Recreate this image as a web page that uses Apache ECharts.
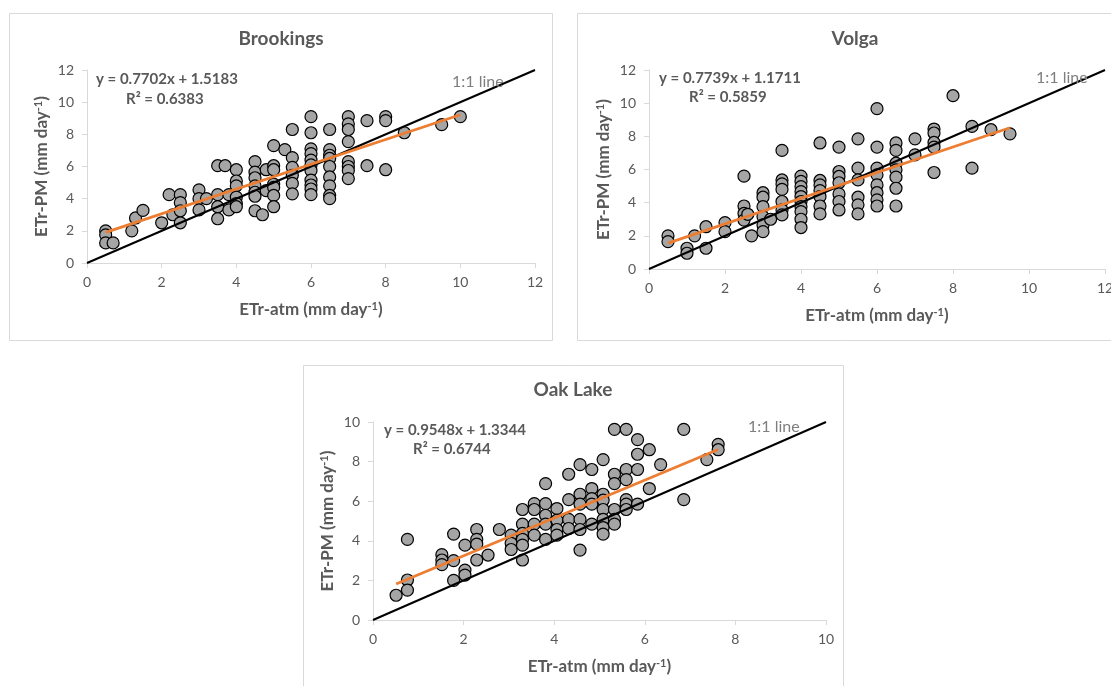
<!DOCTYPE html>
<html>
<head>
<meta charset="utf-8">
<script src="https://cdn.jsdelivr.net/npm/echarts@6/dist/echarts.min.js"></script>
<style>
html,body{margin:0;padding:0;background:#fff;overflow:hidden;}
#c{width:1111px;height:686px;}
</style>
</head>
<body>
<div id="c"></div>
<script>
// ---- data ----
const titles = ['Brookings', 'Volga', 'Oak Lake'];
const equations = ['y = 0.7702x + 1.5183', 'y = 0.7739x + 1.1711', 'y = 0.9548x + 1.3344'];
const rSquared = ['R² = 0.6383', 'R² = 0.5859', 'R² = 0.6744'];
const xTicksTop = [0, 2, 4, 6, 8, 10, 12];
const xTicksOak = [0, 2, 4, 6, 8, 10];

const brookingsPts = [
  [0.5,2.0],[0.5,1.75],[0.5,1.25],[0.7,1.25],[1.2,2.0],[1.3,2.8],[1.5,3.27],[2.0,2.5],[2.2,4.25],[2.3,3.0],
  [2.5,4.25],[2.5,3.75],[2.5,3.25],[2.5,2.5],[3.0,4.55],[3.0,4.0],[3.0,3.3],[3.2,4.0],[3.5,6.05],[3.7,6.05],
  [3.5,4.25],[3.5,3.5],[3.5,2.75],[3.8,3.3],[3.8,4.25],[4.0,5.8],[4.0,5.1],[4.0,4.8],[4.0,4.1],[4.0,3.7],
  [4.0,3.5],[4.5,6.3],[4.5,5.65],[4.5,5.3],[4.5,4.8],[4.5,4.4],[4.5,4.15],[4.5,3.25],[4.7,3.0],[4.8,5.8],
  [4.8,4.5],[5.0,7.3],[5.0,6.05],[5.0,5.8],[5.0,4.9],[5.0,4.7],[5.0,4.2],[5.0,3.5],[5.3,7.05],[5.5,8.3],
  [5.5,6.55],[5.5,5.95],[5.5,5.45],[5.5,4.95],[5.5,4.3],[6.0,9.1],[6.0,8.1],[6.0,7.1],[6.0,6.8],[6.0,6.4],
  [6.0,6.1],[6.0,5.75],[6.0,5.15],[6.0,4.85],[6.0,4.6],[6.0,4.25],[6.5,8.3],[6.5,7.05],[6.5,6.7],[6.5,6.5],
  [6.5,6.0],[6.5,5.35],[6.5,4.8],[6.5,4.2],[6.5,4.0],[7.0,9.1],[7.0,8.65],[7.0,8.3],[7.0,7.55],[7.0,6.3],
  [7.0,6.0],[7.0,5.75],[7.0,5.25],[7.5,8.85],[7.5,6.05],[8.0,9.1],[8.0,8.85],[8.0,5.8],[8.5,8.1],[9.5,8.6],
  [10.0,9.1]
];
const volgaPts = [
  [0.5,2.0],[0.5,1.65],[1.0,1.25],[1.0,0.95],[1.2,2.0],[1.5,2.55],[1.5,1.25],[2.0,2.8],[2.0,2.25],[2.5,5.6],
  [2.5,3.8],[2.5,3.35],[2.5,2.95],[2.6,3.3],[2.7,2.0],[3.0,4.6],[3.0,4.33],[3.0,3.76],[3.0,3.16],[3.0,2.66],
  [3.0,2.25],[3.2,3.0],[3.5,7.15],[3.5,5.37],[3.5,5.13],[3.5,4.8],[3.5,4.07],[3.5,3.56],[3.5,3.26],[4.0,5.6],
  [4.0,5.28],[4.0,4.97],[4.0,4.67],[4.0,4.37],[4.0,4.07],[4.0,3.76],[4.0,3.46],[4.0,3.0],[4.0,2.5],[4.5,7.6],
  [4.5,5.34],[4.5,5.07],[4.5,4.73],[4.5,4.37],[4.5,3.8],[4.5,3.32],[5.0,7.35],[5.0,5.88],[5.0,5.58],[5.0,5.2],
  [5.0,4.53],[5.0,4.07],[5.0,3.56],[5.5,7.85],[5.5,6.08],[5.5,5.37],[5.5,4.33],[5.5,3.87],[5.5,3.32],[6.0,9.67],
  [6.0,7.35],[6.0,6.08],[6.0,5.68],[6.0,5.07],[6.0,4.6],[6.0,4.17],[6.0,3.8],[6.5,7.6],[6.5,7.15],[6.5,6.38],
  [6.5,5.98],[6.5,5.54],[6.5,4.87],[6.5,3.8],[7.0,7.85],[7.0,6.88],[7.5,8.44],[7.5,8.2],[7.5,7.63],[7.5,7.35],
  [7.5,5.82],[8.0,10.45],[8.5,8.6],[8.5,6.08],[9.0,8.4],[9.5,8.15]
];
const oakLakePts = [
  [0.51,1.25],[0.76,4.07],[0.76,2.02],[0.76,1.51],[1.52,3.3],[1.52,3.03],[1.52,2.8],[1.78,4.34],[1.78,3.0],[1.78,2.0],
  [2.03,3.78],[2.03,2.52],[2.03,2.27],[2.29,4.57],[2.29,4.07],[2.29,3.83],[2.29,3.03],[2.54,3.28],[2.79,4.57],[3.05,4.29],
  [3.05,3.87],[3.05,3.56],[3.30,5.58],[3.30,4.84],[3.30,4.37],[3.30,4.07],[3.30,3.78],[3.30,3.03],[3.56,5.88],[3.56,5.58],
  [3.56,4.84],[3.56,4.29],[3.81,6.89],[3.81,5.88],[3.81,5.29],[3.81,4.84],[3.81,4.07],[4.06,5.63],[4.06,5.04],[4.06,4.57],
  [4.06,4.29],[4.32,7.36],[4.32,6.08],[4.32,5.08],[4.32,4.62],[4.57,7.85],[4.57,6.35],[4.57,5.85],[4.57,5.08],[4.57,4.57],
  [4.57,3.53],[4.83,7.6],[4.83,6.64],[4.83,6.13],[4.83,5.85],[4.83,4.84],[5.08,8.1],[5.08,6.35],[5.08,6.05],[5.08,5.58],
  [5.08,5.08],[5.08,4.67],[5.08,4.34],[5.33,9.63],[5.33,7.36],[5.33,6.89],[5.33,5.58],[5.33,5.08],[5.33,4.84],[5.59,9.63],
  [5.59,7.6],[5.59,7.09],[5.59,6.08],[5.59,5.85],[5.59,5.58],[5.84,9.11],[5.84,8.37],[5.84,7.6],[5.84,5.85],[6.10,8.6],
  [6.10,6.64],[6.35,7.85],[6.86,9.63],[6.86,6.08],[7.37,8.1],[7.62,8.87],[7.62,8.6]
];
const brookingsTrend = [[0.5,1.9],[10,9.22]];
const volgaTrend = [[0.5,1.56],[9.5,8.52]];
const oakLakeTrend = [[0.51,1.82],[7.62,8.61]];
const oneToOneTop = [[0,0],[12,12]];
const oneToOneOak = [[0,0],[10,10]];

// ---- styling / layout ----
const FONT = 'Lato, "Open Sans", sans-serif';
const GRAY = '#595959';
const grids = [
  {left: 87, top: 70, width: 448, height: 193, outerBoundsMode: 'none'},
  {left: 649, top: 70, width: 456, height: 199, outerBoundsMode: 'none'},
  {left: 373, top: 422, width: 453, height: 198, outerBoundsMode: 'none'}
];
function axisName(t) {
  return '{a|' + t + ' (mm day}{s|-1}{a|)}';
}
const nameRich = {
  a: {fontFamily: FONT, fontSize: 17, fontWeight: 'bold', color: GRAY},
  s: {fontFamily: FONT, fontSize: 11, fontWeight: 'bold', color: GRAY, verticalAlign: 'top', padding: [0, 0, 7, 0]}
};
function xAxis(i, max, ticks) {
  return {
    type: 'value', gridIndex: i, min: 0, max: max, interval: 2,
    name: axisName('ETr-atm'), nameLocation: 'middle', nameGap: 38,
    nameTextStyle: {fontSize: 17, rich: nameRich},
    axisLine: {show: true, lineStyle: {color: '#d9d9d9', width: 1}},
    axisTick: {show: true, length: 5, lineStyle: {color: '#d9d9d9'}},
    splitLine: {show: false},
    axisLabel: {color: GRAY, fontFamily: FONT, fontSize: 14, margin: 12,
      formatter: v => ticks.indexOf(v) >= 0 ? String(v) : ''}
  };
}
function yAxis(i, max) {
  return {
    type: 'value', gridIndex: i, min: 0, max: max, interval: 2,
    name: axisName('ETr-PM'), nameLocation: 'middle', nameGap: 36, nameRotate: 90,
    nameTextStyle: {fontSize: 17, rich: nameRich},
    axisLine: {show: true, lineStyle: {color: '#d9d9d9', width: 1}},
    axisTick: {show: true, length: 5, lineStyle: {color: '#d9d9d9'}},
    splitLine: {show: false},
    axisLabel: {color: GRAY, fontFamily: FONT, fontSize: 14, margin: 13}
  };
}
function scatter(i, pts) {
  return {type: 'scatter', xAxisIndex: i, yAxisIndex: i, data: pts, symbol: 'circle', symbolSize: 12,
    itemStyle: {color: '#A5A5A5', borderColor: '#000', borderWidth: 1.2, opacity: 1}, z: 2, silent: true};
}
function line(i, pts, color, w, z) {
  return {type: 'line', xAxisIndex: i, yAxisIndex: i, data: pts, symbol: 'none',
    lineStyle: {color: color, width: w}, z: z, silent: true, animation: false};
}
function txt(x, y, s, opts) {
  return Object.assign({type: 'text', x: x, y: y, style: Object.assign({text: s, fontFamily: FONT, fill: GRAY,
    fontSize: 15, fontWeight: 'bold', textVerticalAlign: 'middle'}, opts || {})}, {z: 10});
}
function box(x, y, w, h) {
  return {type: 'rect', shape: {x: x, y: y, width: w, height: h}, style: {fill: 'none', stroke: '#d9d9d9', lineWidth: 1}, z: 0};
}

const chart = echarts.init(document.getElementById('c'));
chart.setOption({
  animation: false,
  backgroundColor: '#fff',
  grid: grids,
  xAxis: [xAxis(0, 12, xTicksTop), xAxis(1, 12, xTicksTop), xAxis(2, 10, xTicksOak)],
  yAxis: [yAxis(0, 12), yAxis(1, 12), yAxis(2, 10)],
  series: [
    scatter(0, brookingsPts), line(0, oneToOneTop, '#000', 2, 4), line(0, brookingsTrend, '#ED7D31', 2.8, 5),
    scatter(1, volgaPts), line(1, oneToOneTop, '#000', 2, 4), line(1, volgaTrend, '#ED7D31', 2.8, 5),
    scatter(2, oakLakePts), line(2, oneToOneOak, '#000', 2, 4), line(2, oakLakeTrend, '#ED7D31', 2.8, 5)
  ],
  graphic: [
    box(9.5, 13.5, 543, 327), box(577.5, 13.5, 560, 327), box(303.5, 365.5, 540, 340),
    txt(281, 39, titles[0], {fontSize: 19, textAlign: 'center'}),
    txt(855, 39, titles[1], {fontSize: 19, textAlign: 'center'}),
    txt(573, 390, titles[2], {fontSize: 19, textAlign: 'center'}),
    txt(96, 79, equations[0]), txt(126, 99, rSquared[0]),
    txt(659, 78, equations[1]), txt(689, 97, rSquared[1]),
    txt(384, 430, equations[2]), txt(413, 449, rSquared[2]),
    txt(452, 82, '1:1 line', {fontWeight: 'normal', fill: '#7f7f7f', fontSize: 16}),
    txt(1036, 78, '1:1 line', {fontWeight: 'normal', fill: '#7f7f7f', fontSize: 16}),
    txt(748, 427, '1:1 line', {fontWeight: 'normal', fill: '#7f7f7f', fontSize: 16})
  ]
});
</script>
</body>
</html>
